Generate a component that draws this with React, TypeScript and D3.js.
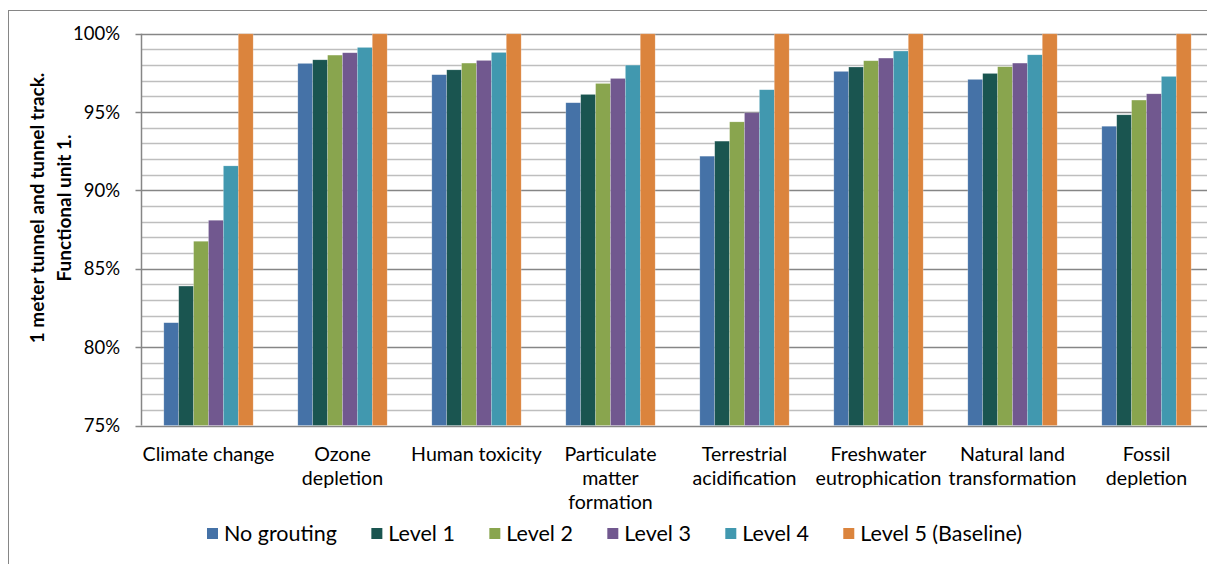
import React, { useEffect, useRef } from "react";
import * as d3 from "d3";

const categoryLines: string[][] = [
  ["Climate change"],
  ["Ozone", "depletion"],
  ["Human toxicity"],
  ["Particulate", "matter", "formation"],
  ["Terrestrial", "acidification"],
  ["Freshwater", "eutrophication"],
  ["Natural land", "transformation"],
  ["Fossil", "depletion"],
];

const seriesNames = ["No grouting", "Level 1", "Level 2", "Level 3", "Level 4", "Level 5 (Baseline)"];
const seriesColors = ["#4572A7", "#1A5550", "#89A54E", "#71588F", "#4198AF", "#DB843D"];

const noGrouting = [81.56, 98.11, 97.39, 95.6, 92.19, 97.6, 97.09, 94.1];
const level1 = [83.9, 98.34, 97.7, 96.13, 93.15, 97.88, 97.47, 94.83];
const level2 = [86.76, 98.64, 98.13, 96.83, 94.38, 98.28, 97.9, 95.77];
const level3 = [88.1, 98.79, 98.3, 97.15, 94.96, 98.45, 98.13, 96.17];
const level4 = [91.57, 99.13, 98.81, 98.0, 96.43, 98.9, 98.66, 97.28];
const level5 = [100, 100, 100, 100, 100, 100, 100, 100];

const yMajorTicks = [75, 80, 85, 90, 95, 100];
const yTitleLines = ["1 meter tunnel and tunnel track.", "Functional unit 1."];

const W = 1207;
const H = 564;
const FONT = "Lato, 'Open Sans', sans-serif";

export default function App() {
  const ref = useRef<SVGSVGElement | null>(null);

  useEffect(() => {
    const svg = d3.select(ref.current);
    svg.selectAll("*").remove();

    const series = [noGrouting, level1, level2, level3, level4, level5];
    const cats = categoryLines.map((l) => l.join(" "));

    const plotLeft = 141.5;
    const plotTop = 33.8;
    const plotBottom = 425.5;
    const step = 134;
    const x0 = d3.scaleBand<string>().domain(cats).range([plotLeft, plotLeft + step * cats.length]).paddingInner(0).paddingOuter(0);
    const x1 = d3.scaleBand<string>().domain(seriesNames).range([0, x0.bandwidth()]).paddingInner(0).paddingOuter(1.5);
    const y = d3.scaleLinear().domain([75, 100]).range([plotBottom, plotTop]);

    // chart border
    svg.append("rect").attr("x", 8.5).attr("y", 10.5).attr("width", W + 20).attr("height", H + 20)
      .attr("fill", "#fff").attr("stroke", "#868686").attr("stroke-width", 1);

    const plotRight = W + 10;
    // minor gridlines
    const minor = d3.range(76, 100, 1).filter((v) => v % 5 !== 0);
    svg.append("g").selectAll("line").data(minor).join("line")
      .attr("x1", plotLeft).attr("x2", plotRight)
      .attr("y1", (d) => Math.round(y(d)) + 0.5).attr("y2", (d) => Math.round(y(d)) + 0.5)
      .attr("stroke", "#BEBEBE").attr("stroke-width", 1.5);
    svg.append("g").selectAll("line").data(yMajorTicks).join("line")
      .attr("x1", plotLeft - 6).attr("x2", plotRight)
      .attr("y1", (d) => Math.round(y(d)) + 0.5).attr("y2", (d) => Math.round(y(d)) + 0.5)
      .attr("stroke", "#868686").attr("stroke-width", 1.5);

    // bars
    const g = svg.append("g");
    series.forEach((vals, si) => {
      g.append("g").selectAll("rect").data(vals).join("rect")
        .attr("x", (_, i) => (x0(cats[i]) as number) + (x1(seriesNames[si]) as number))
        .attr("width", x1.bandwidth())
        .attr("y", (d) => y(d))
        .attr("height", (d) => y(75) - y(d))
        .attr("fill", seriesColors[si])
        .attr("stroke", "rgba(255,255,255,0.35)").attr("stroke-width", 0.6);
    });

    // y axis line
    svg.append("line").attr("x1", plotLeft).attr("x2", plotLeft).attr("y1", plotTop).attr("y2", plotBottom)
      .attr("stroke", "#868686").attr("stroke-width", 1.5);

    // tick labels
    svg.append("g").selectAll("text").data(yMajorTicks).join("text")
      .attr("x", 120).attr("y", (d) => y(d)).attr("dy", "0.35em")
      .attr("text-anchor", "end").attr("font-family", FONT).attr("font-size", 18.5).attr("fill", "#000")
      .text((d) => d3.format(".0%")(d / 100));

    // category labels
    const cl = svg.append("g");
    categoryLines.forEach((lines, i) => {
      const cx = (x0(cats[i]) as number) + x0.bandwidth() / 2;
      const t = cl.append("text").attr("text-anchor", "middle").attr("font-family", FONT).attr("font-size", 19.6).attr("fill", "#000");
      lines.forEach((ln, li) => {
        t.append("tspan").attr("x", cx).attr("y", 461 + li * 24).text(ln);
      });
    });

    // y title
    const tt = svg.append("text").attr("transform", "translate(0,208) rotate(-90)")
      .attr("text-anchor", "middle").attr("font-family", FONT).attr("font-size", 19).attr("font-weight", "bold").attr("fill", "#000");
    yTitleLines.forEach((ln, li) => {
      tt.append("tspan").attr("x", 0).attr("y", 44 + li * 27).text(ln);
    });

    // legend
    const lg = svg.append("g");
    const items = seriesNames.map((name, i) => {
      const it = lg.append("g");
      it.append("rect").attr("width", 11).attr("height", 11).attr("y", 528).attr("fill", seriesColors[i]);
      const tx = it.append("text").attr("x", 17).attr("y", 541).attr("font-family", FONT).attr("font-size", 21.5).attr("fill", "#000").text(name);
      const w = (tx.node() as SVGTextElement).getComputedTextLength();
      return { it, w: 17 + w };
    });
    const startX = 207;
    const endX = 1022;
    const total = d3.sum(items, (d) => d.w);
    const gap = (endX - startX - total) / (items.length - 1);
    let cx = startX;
    items.forEach((d) => {
      d.it.attr("transform", `translate(${cx},0)`);
      cx += d.w + gap;
    });
  }, []);

  return (
    <svg ref={ref} width={W} height={H} style={{ position: "absolute", left: 0, top: 0, background: "#fff" }} />
  );
}
